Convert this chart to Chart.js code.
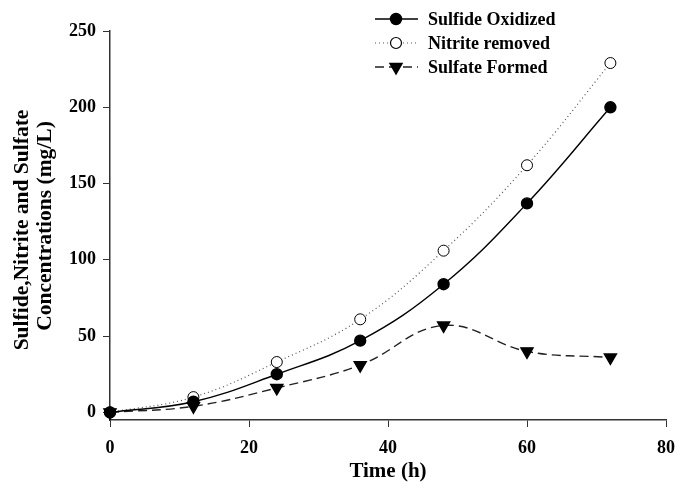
<!DOCTYPE html>
<html>
<head>
<meta charset="utf-8">
<script src="https://cdn.jsdelivr.net/npm/chart.js@4"></script>
<style>
  html, body { margin: 0; padding: 0; background: #fff; }
  #wrap { width: 678px; height: 482px; }
</style>
</head>
<body>
<div id="wrap"><canvas id="grafica" width="678" height="482"></canvas></div>
<script>
// data
const tiempos = [0, 12, 24, 36, 48, 60, 72]
const sulfideOxidized = [0, 7, 25, 47, 84, 137, 200]
const nitriteRemoved = [0, 10, 33, 61, 106, 162, 229]
const sulfateFormed = [0, 4, 16, 31, 57, 40, 36]
const xTicks = [0, 20, 40, 60, 80]
const yTicks = [0, 50, 100, 150, 200, 250]
const etiquetas = ['Sulfide Oxidized', 'Nitrite removed', 'Sulfate Formed']
const tituloY = ['Sulfide,Nitrite and Sulfate', 'Concentrations (mg/L)']
const tituloX = 'Time (h)'

const fuente = '"Liberation Serif", "Times New Roman", serif'
const puntos = arr => tiempos.map((t, i) => ({ x: t, y: arr[i] }))

// legend drawn as line + marker like the original
const leyenda = {
    id: 'leyenda',
    afterDraw(chart) {
        const ctx = chart.ctx
        chart.data.datasets.forEach((ds, i) => {
            const y = 19 + i * 24
            ctx.save()
            ctx.strokeStyle = ds.borderColor
            ctx.lineWidth = ds.borderWidth
            ctx.setLineDash(ds.borderDash || [])
            ctx.beginPath()
            ctx.moveTo(375, y)
            ctx.lineTo(418, y)
            ctx.stroke()
            ctx.setLineDash([])
            ctx.fillStyle = ds.pointBackgroundColor
            ctx.strokeStyle = '#000'
            Chart.helpers.drawPoint(ctx, {
                pointStyle: ds.pointStyle,
                rotation: ds.pointRotation || 0,
                radius: ds.pointRadius,
                borderWidth: 1
            }, 396, y)
            ctx.fillStyle = '#000'
            ctx.font = 'bold 18px ' + fuente
            ctx.textBaseline = 'middle'
            ctx.fillText(ds.label, 428, y + 1)
            ctx.restore()
        })
    }
}

// rotated two-line y title
const tituloVertical = {
    id: 'tituloVertical',
    afterDraw(chart) {
        const ctx = chart.ctx
        const filas = [[22, 230], [45, 226]]
        ctx.save()
        ctx.fillStyle = '#000'
        ctx.font = 'bold 21.5px ' + fuente
        ctx.textAlign = 'center'
        ctx.textBaseline = 'middle'
        tituloY.forEach((t, i) => {
            ctx.save()
            ctx.translate(filas[i][0], filas[i][1])
            ctx.rotate(-Math.PI / 2)
            ctx.fillText(t, 0, 0)
            ctx.restore()
        })
        ctx.restore()
    }
}

const $grafica = document.querySelector('#grafica')
new Chart($grafica, {
    type: 'line',
    data: {
        datasets: [{
            label: etiquetas[0],
            data: puntos(sulfideOxidized),
            borderColor: '#000',
            borderWidth: 1.4,
            pointStyle: 'circle',
            pointRadius: 5.5,
            pointBackgroundColor: '#000',
            pointBorderColor: '#000',
            tension: 0.4,
            clip: false
        }, {
            label: etiquetas[1],
            data: puntos(nitriteRemoved),
            borderColor: '#555',
            borderWidth: 1.2,
            borderDash: [1, 3],
            pointStyle: 'circle',
            pointRadius: 5.5,
            pointBackgroundColor: '#fff',
            pointBorderColor: '#000',
            pointBorderWidth: 1,
            tension: 0.4,
            clip: false
        }, {
            label: etiquetas[2],
            data: puntos(sulfateFormed),
            borderColor: '#222',
            borderWidth: 1.4,
            borderDash: [9, 5],
            pointStyle: 'triangle',
            pointRotation: 180,
            pointRadius: 7,
            pointBackgroundColor: '#000',
            pointBorderColor: '#000',
            tension: 0.4,
            clip: false
        }]
    },
    options: {
        responsive: false,
        animation: false,
        layout: { padding: { top: 31, right: 12, left: 0, bottom: 0 } },
        plugins: {
            legend: { display: false },
            tooltip: { enabled: false }
        },
        scales: {
            x: {
                type: 'linear',
                min: 0,
                max: 80,
                afterBuildTicks: s => { s.ticks = xTicks.map(v => ({ value: v })) },
                afterFit: s => { s.height = 62; s.paddingRight = 0; s.paddingLeft = 0 },
                grid: { drawOnChartArea: false, drawTicks: true, tickLength: 7, tickColor: '#333' },
                border: { color: '#333', width: 1.5 },
                ticks: { color: '#000', font: { family: fuente, size: 18, weight: 'bold' }, padding: 11, maxRotation: 0 },
                title: { display: true, text: tituloX, color: '#000', font: { family: fuente, size: 21, weight: 'bold', lineHeight: 1 }, padding: { top: 0, bottom: 0 } }
            },
            y: {
                min: -5,
                max: 250,
                afterBuildTicks: s => { s.ticks = yTicks.map(v => ({ value: v })) },
                afterFit: s => { s.width = 110; s.paddingTop = 0; s.paddingBottom = 0 },
                grid: { drawOnChartArea: false, drawTicks: true, tickLength: 7, tickColor: '#333' },
                border: { color: '#333', width: 1.5 },
                ticks: { color: '#000', font: { family: fuente, size: 18, weight: 'bold' }, padding: 7 }
            }
        }
    },
    plugins: [leyenda, tituloVertical]
})
</script>
</body>
</html>
